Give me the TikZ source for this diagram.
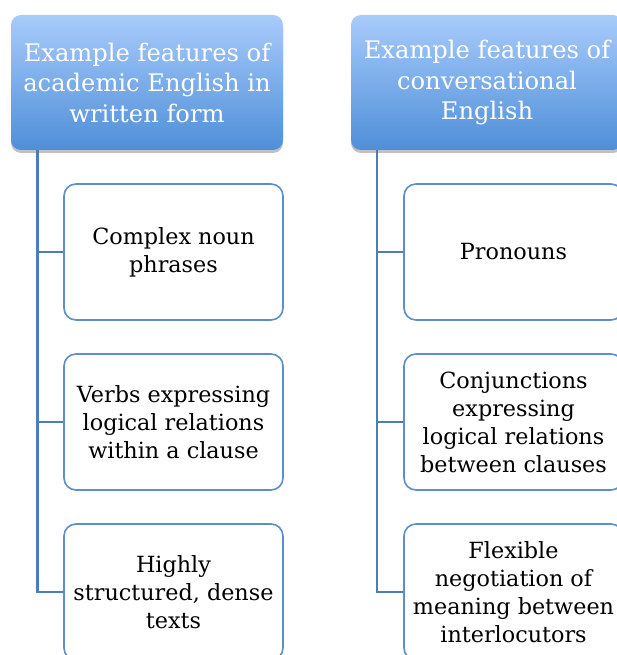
\documentclass[tikz,border=0pt]{standalone}
\usepackage{fontspec}
\setmainfont{DejaVu Serif}
\usetikzlibrary{shadows,calc}
\definecolor{hdtop}{HTML}{A8CBFB}
\definecolor{hdbot}{HTML}{4F8FD8}
\definecolor{boxline}{HTML}{5B8FCB}
\definecolor{conn}{HTML}{4A7DBA}
\tikzset{
  header/.style={rounded corners=10pt, minimum width=272pt, minimum height=135pt,
    top color=hdtop, bottom color=hdbot, draw=none, text=white, align=center,
    font=\fontsize{24.2}{30.5}\selectfont, inner sep=2pt,
    drop shadow={shadow xshift=0pt, shadow yshift=-3pt, opacity=0.35, fill=black!70}},
  item/.style={rounded corners=12pt, minimum width=219pt, minimum height=136pt,
    draw=boxline, line width=1.6pt, fill=white, text=black, align=center,
    font=\fontsize{22.3}{28}\selectfont, inner sep=2pt},
  link/.style={draw=conn, line width=2.2pt}
}
\begin{document}
\begin{tikzpicture}[x=1pt,y=1pt]
\useasboundingbox (0,0) rectangle (617,-655);
\node[header] (h1) at (147,-82.5) {Example features of\\academic English in\\written form};
\node[header] (h2) at (487,-82.5) {Example features of\\conversational\\English};
\node[item] (a1) at (173.5,-252) {Complex noun\\phrases};
\node[item] (a2) at (173.5,-422) {Verbs expressing\\logical relations\\within a clause};
\node[item] (a3) at (173.5,-592) {Highly\\structured, dense\\texts};
\node[item] (b1) at (513.5,-252) {Pronouns};
\node[item] (b2) at (513.5,-422) {Conjunctions\\expressing\\logical relations\\between clauses};
\node[item] (b3) at (513.5,-592) {Flexible\\negotiation of\\meaning between\\interlocutors};
\coordinate (v1) at ($(h1.south west)+(26.7,0)$);
\coordinate (v2) at ($(h2.south west)+(26.3,0)$);
\draw[link] (v1) |- (a3.west);
\draw[link] (v1) |- (a1.west);
\draw[link] (v1) |- (a2.west);
\draw[link] (v2) |- (b3.west);
\draw[link] (v2) |- (b1.west);
\draw[link] (v2) |- (b2.west);
\end{tikzpicture}
\end{document}
